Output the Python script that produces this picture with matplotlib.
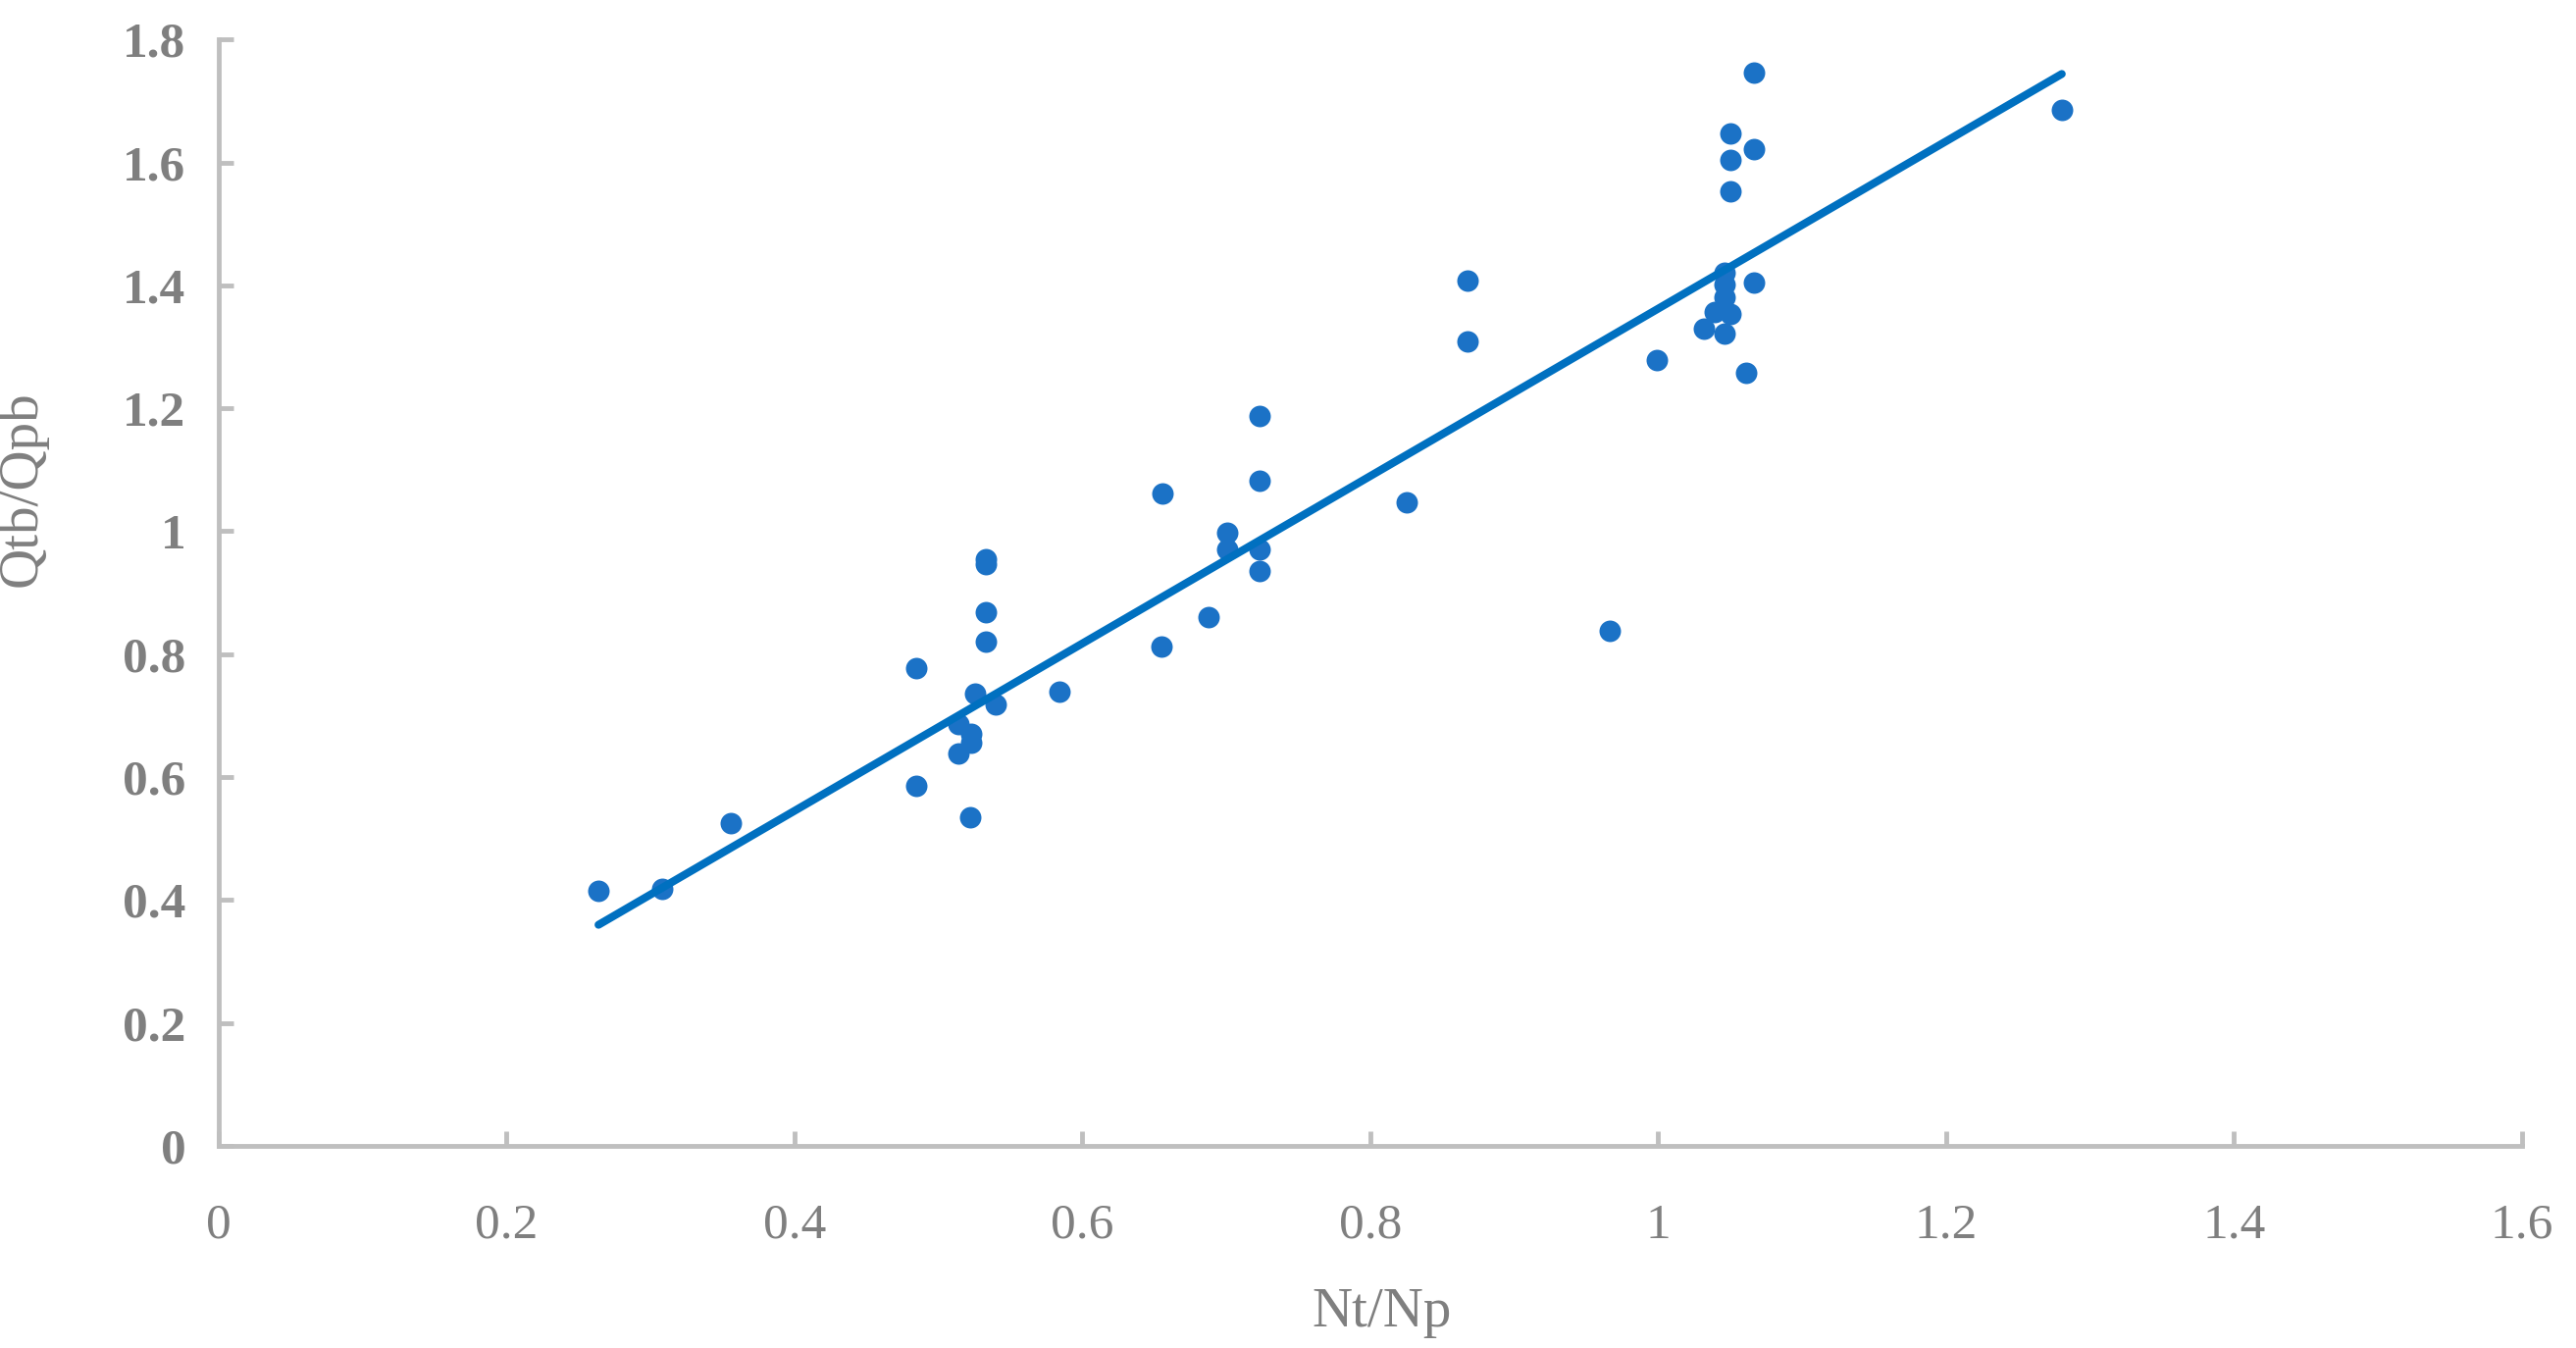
import numpy as np
import matplotlib as mpl
import matplotlib.pyplot as plt

mpl.use('agg')

# Nt/Np vs Qtb/Qpb
nt_np = [0.264, 0.308, 0.356,
         0.485, 0.485, 0.514, 0.514, 0.522, 0.523, 0.523, 0.5255, 0.533, 0.533,
         0.533, 0.533, 0.540, 0.584,
         0.6558, 0.655, 0.688, 0.701, 0.701, 0.7233, 0.7233, 0.7233, 0.7233,
         0.8256, 0.8676, 0.8676, 0.9662, 0.999,
         1.032, 1.039, 1.046, 1.046, 1.046, 1.046, 1.050, 1.050, 1.050, 1.050,
         1.061, 1.0666, 1.0666, 1.0666, 1.2804]
qtb_qpb = [0.4145, 0.418, 0.525,
           0.778, 0.585, 0.686, 0.638, 0.535, 0.670, 0.656, 0.736, 0.955, 0.947,
           0.868, 0.820, 0.718, 0.739,
           1.061, 0.813, 0.861, 0.997, 0.970, 1.188, 1.082, 0.970, 0.936,
           1.047, 1.4076, 1.309, 0.838, 1.278,
           1.329, 1.357, 1.420, 1.401, 1.380, 1.321, 1.353, 1.647, 1.604, 1.553,
           1.258, 1.746, 1.621, 1.404, 1.685]

# trendline through the origin, slope
trend_slope = 1.362

x_ticks = [0, 0.2, 0.4, 0.6, 0.8, 1, 1.2, 1.4, 1.6]
y_ticks = [0, 0.2, 0.4, 0.6, 0.8, 1, 1.2, 1.4, 1.6, 1.8]

grey = '#7F7F7F'
axis_grey = '#BFBFBF'
font = 'Liberation Serif'

fig = plt.figure(figsize=(26.26, 13.74), dpi=100)
ax = fig.add_axes([0.0848, 0.150, 0.8942, 0.8207])

x = np.array(nt_np)
y = np.array(qtb_qpb)
xf = np.array([x.min(), x.max()])

ax.scatter(x, y, s=250, color='#1B72C6', zorder=2, linewidths=0)
ax.plot(xf, trend_slope * xf, color='#0070C0', lw=5.8,
        solid_capstyle='round', zorder=3)

ax.set_xlim(0, 1.6)
ax.set_ylim(0, 1.8)
ax.set_xticks(x_ticks)
ax.set_yticks(y_ticks)
ax.set_xticklabels([f'{t:g}' for t in x_ticks], fontfamily=font,
                   fontsize=37, color=grey)
ax.set_yticklabels([f'{t:g}' for t in y_ticks], fontfamily=font,
                   fontsize=37, color=grey, fontweight='bold')

for side in ['top', 'right']:
    ax.spines[side].set_visible(False)
for side in ['left', 'bottom']:
    ax.spines[side].set_color(axis_grey)
    ax.spines[side].set_linewidth(3.5)

ax.tick_params(axis='x', direction='in', length=11, width=3.5,
               color=axis_grey, pad=42)
ax.tick_params(axis='y', direction='in', length=11, width=3.5,
               color=axis_grey, pad=24)

ax.set_xlabel('Nt/Np', fontfamily=font, fontsize=41, color=grey)
ax.set_ylabel('Qtb/Qpb', fontfamily=font, fontsize=41, color=grey)
ax.xaxis.set_label_coords(0.505, -0.128)
ax.yaxis.set_label_coords(-0.074, 0.594)

fig.savefig('out.png', dpi=100)
